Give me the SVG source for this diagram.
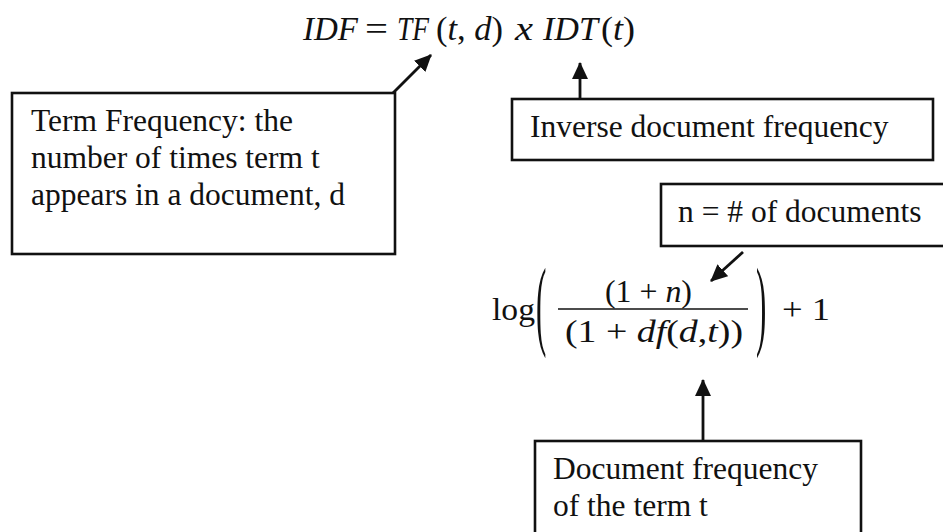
<svg xmlns="http://www.w3.org/2000/svg" width="943" height="532" viewBox="0 0 943 532">
<defs>
<style>
.box{fill:#fff;stroke:#111;stroke-width:2.6}
.lbl{font-family:"Liberation Serif","Times New Roman",serif;font-size:31.5px;fill:#111}
.m{font-family:"Liberation Serif","Times New Roman",serif;font-size:31px;fill:#111}
.t{font-size:34px}
.mi{font-style:italic}
.conn line{stroke:#111;stroke-width:2.8;marker-end:url(#ah)}
</style>
<marker id="ah" markerUnits="userSpaceOnUse" markerWidth="18" markerHeight="16" refX="16" refY="8" orient="auto">
<path d="M0,0 L17,8 L0,16 Z" fill="#111"/>
</marker>
</defs>
<rect width="943" height="532" fill="#fff"/>

<g id="formula-top">
<text class="m t mi" x="303" y="40" textLength="55" lengthAdjust="spacingAndGlyphs">IDF</text>
<text class="m t" x="365" y="40" textLength="23" lengthAdjust="spacingAndGlyphs">=</text>
<text class="m t mi" x="397" y="40" textLength="32" lengthAdjust="spacingAndGlyphs">TF</text>
<text class="m t" x="436" y="40" textLength="67" lengthAdjust="spacingAndGlyphs">(<tspan class="mi">t</tspan>, <tspan class="mi">d</tspan>)</text>
<text class="m t mi" x="515" y="40" textLength="18" lengthAdjust="spacingAndGlyphs">x</text>
<text class="m t mi" x="543" y="40" textLength="55" lengthAdjust="spacingAndGlyphs">IDT</text>
<text class="m t" x="601" y="40" textLength="34" lengthAdjust="spacingAndGlyphs">(<tspan class="mi">t</tspan>)</text>
</g>

<g id="tf-box">
<rect class="box" x="12" y="93" width="383" height="161"/>
<text class="lbl" x="31" y="131">Term Frequency: the</text>
<text class="lbl" x="31" y="168">number of times term t</text>
<text class="lbl" x="31" y="205">appears in a document, d</text>
</g>

<g id="idf-box">
<rect class="box" x="512" y="99" width="421" height="61"/>
<text class="lbl" x="530" y="137">Inverse document frequency</text>
</g>

<g id="n-box">
<rect class="box" x="661" y="184" width="300" height="62"/>
<text class="lbl" x="678" y="222">n = # of documents</text>
</g>

<g id="formula-log">
<text class="m" x="492" y="320" textLength="43" lengthAdjust="spacingAndGlyphs">log</text>
<text class="m" transform="translate(536,337) scale(1,3.2)" x="0" y="0">(</text>
<text class="m" x="605" y="302" textLength="87" lengthAdjust="spacingAndGlyphs">(1 + <tspan class="mi">n</tspan>)</text>
<line x1="558" y1="309" x2="748" y2="309" stroke="#111" stroke-width="1.6"/>
<text class="m" x="565" y="342" textLength="178" lengthAdjust="spacingAndGlyphs">(1 + <tspan class="mi">df</tspan>(<tspan class="mi">d</tspan>,<tspan class="mi">t</tspan>))</text>
<text class="m" transform="translate(756,337) scale(1,3.2)" x="0" y="0">)</text>
<text class="m" x="782" y="320" textLength="48" lengthAdjust="spacingAndGlyphs">+ 1</text>
</g>

<g id="df-box">
<rect class="box" x="535" y="441" width="326" height="110"/>
<text class="lbl" x="553" y="479">Document frequency</text>
<text class="lbl" x="553" y="516">of the term t</text>
</g>

<g id="connectors" class="conn">
<line x1="393" y1="93" x2="431" y2="55"/>
<line x1="580" y1="99" x2="580" y2="63"/>
<line x1="743" y1="252" x2="711" y2="281"/>
<line x1="703" y1="441" x2="703" y2="380"/>
</g>
</svg>
